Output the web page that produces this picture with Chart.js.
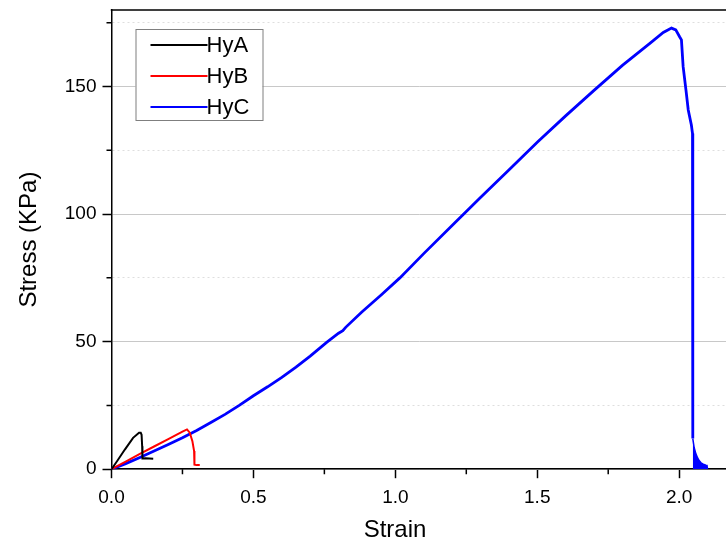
<!DOCTYPE html>
<html>
<head>
<meta charset="utf-8">
<script src="https://cdn.jsdelivr.net/npm/chart.js@4.4.0/dist/chart.umd.min.js"></script>
<style>
  html, body { margin: 0; padding: 0; background: #fff; }
  #chart { display: block; }
</style>
</head>
<body>
<canvas id="chart" width="726" height="545"></canvas>
<script>
// values
const hyaStrain = [0, 0.02, 0.047, 0.076, 0.097, 0.103, 0.106, 0.108, 0.109, 0.12, 0.147];
const hyaStress = [0, 3.2, 7.7, 12.3, 14.3, 14.3, 13.5, 9, 4.2, 4.3, 4.1];

const hybStrain = [0, 0.05, 0.1, 0.15, 0.2, 0.25, 0.266, 0.2757, 0.285, 0.291, 0.2935, 0.291, 0.3, 0.311];
const hybStress = [0, 3.0, 6.0, 8.9, 11.8, 14.7, 15.6, 14.3, 11.0, 7.1, 3.8, 1.8, 1.6, 1.6];

const hycStrain = [0, 0.05, 0.1, 0.15, 0.2, 0.25, 0.3, 0.35, 0.4, 0.45, 0.5, 0.55, 0.6, 0.65, 0.7, 0.758,
  0.8, 0.815, 0.825, 0.881, 0.95, 1.016, 1.1, 1.2, 1.3, 1.4, 1.5, 1.6, 1.7, 1.8, 1.9, 1.944, 1.973, 1.988,
  2.002, 2.008, 2.014, 2.024, 2.032, 2.043, 2.047, 2.048];
const hycStress = [0, 2.2, 4.6, 7.1, 9.7, 12.3, 15.2, 18.3, 21.5, 25.0, 28.8, 32.3, 36.0, 40.0, 44.3, 49.7,
  53.3, 54.3, 55.6, 61.5, 68.3, 75, 84.5, 95.5, 106.5, 117.3, 128.2, 138.5, 148.5, 158.3, 167.2, 171.2, 172.9, 172.2,
  169.4, 168.3, 157.8, 148.6, 140.8, 134.9, 131.6, 12];

// noisy tail after fracture, drawn as a filled envelope
const hycTailStrain = [2.048, 2.053, 2.059, 2.065, 2.071, 2.077, 2.085, 2.094, 2.098, 2.1];
const hycTailStress = [12, 8.4, 6, 4.4, 3.3, 2.5, 2, 1.6, 1.5, 0];

const seriesNames = ["HyA", "HyB", "HyC"];
const seriesColors = ["#000000", "#ff0000", "#0000ff"];

const xTicks = [0, 0.25, 0.5, 0.75, 1, 1.25, 1.5, 1.75, 2];
const yTicks = [0, 25, 50, 75, 100, 125, 150, 175];

const FONT = "'Liberation Sans', Arial, sans-serif";

function toPoints(xs, ys) {
  return xs.map((x, i) => ({ x: x, y: ys[i] }));
}
function isMajor(v, step) {
  return Math.abs(v / step - Math.round(v / step)) < 1e-6;
}

// short minor ticks, top frame, x title and in-plot legend
const decorations = {
  id: "decorations",
  afterDraw(chart) {
    const ctx = chart.ctx;
    const area = chart.chartArea;
    const xs = chart.scales.x;
    const ys = chart.scales.y;
    ctx.save();
    ctx.strokeStyle = "#000";
    ctx.lineWidth = 1.5;
    ctx.beginPath();
    xTicks.filter((v) => !isMajor(v, 0.5)).forEach((v) => {
      const px = xs.getPixelForValue(v);
      ctx.moveTo(px, area.bottom);
      ctx.lineTo(px, area.bottom + 5);
    });
    yTicks.filter((v) => !isMajor(v, 50)).forEach((v) => {
      const py = ys.getPixelForValue(v);
      ctx.moveTo(area.left, py);
      ctx.lineTo(area.left - 5, py);
    });
    ctx.moveTo(area.left - 0.75, area.top);
    ctx.lineTo(area.right, area.top);
    ctx.stroke();

    // x axis title, centred as in the original figure
    ctx.fillStyle = "#000";
    ctx.font = "24px " + FONT;
    ctx.textAlign = "center";
    ctx.textBaseline = "middle";
    ctx.fillText("Strain", 395, 530);

    // legend box
    const bx = area.left + 24, by = area.top + 19;
    ctx.fillStyle = "#fff";
    ctx.fillRect(bx, by, 127, 91);
    ctx.strokeStyle = "#7f7f7f";
    ctx.lineWidth = 1;
    ctx.strokeRect(bx + 0.5, by + 0.5, 127, 91);
    ctx.font = "22px " + FONT;
    ctx.textAlign = "left";
    seriesNames.forEach((name, i) => {
      const ly = by + 16 + i * 31;
      ctx.strokeStyle = seriesColors[i];
      ctx.lineWidth = 2;
      ctx.beginPath();
      ctx.moveTo(bx + 15, ly);
      ctx.lineTo(bx + 72, ly);
      ctx.stroke();
      ctx.fillStyle = "#000";
      ctx.fillText(name, bx + 71, ly + 1);
    });
    ctx.restore();
  },
};

const datasets = [
  { label: "HyA", data: toPoints(hyaStrain, hyaStress), borderColor: seriesColors[0], borderWidth: 2 },
  { label: "HyB", data: toPoints(hybStrain, hybStress), borderColor: seriesColors[1], borderWidth: 2 },
  { label: "HyC", data: toPoints(hycStrain, hycStress), borderColor: seriesColors[2], borderWidth: 2.8 },
  {
    label: "HyC tail",
    data: toPoints(hycTailStrain, hycTailStress),
    borderColor: seriesColors[2],
    backgroundColor: seriesColors[2],
    borderWidth: 1.5,
    fill: "origin",
  },
];

new Chart(document.getElementById("chart"), {
  type: "line",
  data: {
    datasets: datasets.map((d) => ({
      ...d,
      pointRadius: 0,
      tension: 0,
      fill: d.fill || false,
    })),
  },
  options: {
    responsive: false,
    animation: false,
    layout: { padding: { left: 11, right: 0, top: 10, bottom: 28 } },
    plugins: {
      legend: { display: false },
      tooltip: { enabled: false },
    },
    scales: {
      x: {
        type: "linear",
        min: 0,
        max: 2.165,
        afterBuildTicks: (axis) => {
          axis.ticks = xTicks.map((v) => ({ value: v }));
        },
        ticks: {
          autoSkip: false,
          maxRotation: 0,
          padding: 8,
          color: "#000",
          font: { family: FONT, size: 19 },
          callback: (v) => (isMajor(v, 0.5) ? v.toFixed(1) : ""),
        },
        grid: {
          drawOnChartArea: false,
          tickLength: 9,
          tickWidth: 1.5,
          tickColor: (c) => (c.tick && isMajor(c.tick.value, 0.5) ? "#000" : "transparent"),
        },
        border: { color: "#000", width: 1.5 },
      },
      y: {
        min: 0,
        max: 180,
        afterBuildTicks: (axis) => {
          axis.ticks = yTicks.map((v) => ({ value: v }));
        },
        ticks: {
          padding: 6,
          color: "#000",
          font: { family: FONT, size: 19, lineHeight: 0.4 },
          callback: (v) => (isMajor(v, 50) ? String(v) : ""),
        },
        grid: {
          tickLength: 9,
          tickWidth: 1.5,
          lineWidth: 1,
          color: (c) => (c.tick && isMajor(c.tick.value, 50) ? "#c8c8c8" : "#dedede"),
          tickColor: (c) => (c.tick && isMajor(c.tick.value, 50) ? "#000" : "transparent"),
        },
        border: {
          color: "#000",
          width: 1.5,
          dash: (c) => (c.tick && !isMajor(c.tick.value, 50) ? [2, 3] : []),
        },
        title: {
          display: true,
          text: "Stress (KPa)",
          color: "#000",
          font: { family: FONT, size: 24 },
          padding: { top: 4, bottom: 15 },
        },
      },
    },
  },
  plugins: [decorations],
});
</script>
</body>
</html>
